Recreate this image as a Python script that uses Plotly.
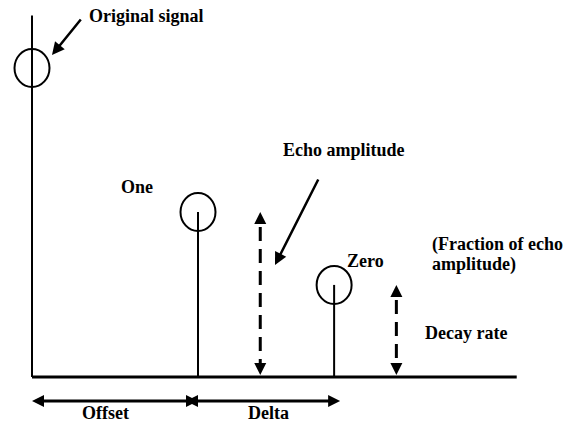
import plotly.graph_objects as go

# ---------------- data ----------------
signal_names = ["Original signal", "One", "Zero"]
signal_times = [0.0, 1.0, 1.82]       # offset = 1.0, delta = 0.82 (time units)
signal_amps = [1.0, 0.534, 0.298]     # relative amplitude of each pulse
axis_top = 1.17                        # top of the vertical axis
axis_end = 2.92                        # end of the time axis
arrow_gap = 0.375                      # dashed arrows sit this far after an echo

offset_label = "Offset"
delta_label = "Delta"
echo_label = "Echo amplitude"
decay_label = "Decay rate"
fraction_lines = ["(Fraction of echo", "amplitude)"]

# ---------------- geometry helpers ----------------
W, H = 570, 426
OX, OY = 32, 377        # pixel position of the origin
SX, SY = 166, 309       # pixels per data unit


def xd(px):
    return (px - OX) / SX


def yd(py):
    return (OY - py) / SY


BLACK = "black"

fig = go.Figure()

# axes lines
fig.add_trace(go.Scatter(x=[0, 0], y=[0, axis_top], mode="lines",
                         line=dict(color=BLACK, width=2)))
fig.add_trace(go.Scatter(x=[0, axis_end], y=[0, 0], mode="lines",
                         line=dict(color=BLACK, width=3)))

# stems
for t, a in zip(signal_times, signal_amps):
    fig.add_trace(go.Scatter(x=[t, t], y=[0, a], mode="lines",
                             line=dict(color=BLACK, width=2)))

# circles on top of stems
RX, RY = 17.5, 19
for t, a in zip(signal_times, signal_amps):
    fig.add_shape(type="circle", xref="x", yref="y",
                  x0=t - RX / SX, x1=t + RX / SX,
                  y0=a - RY / SY, y1=a + RY / SY,
                  line=dict(color=BLACK, width=2), fillcolor="rgba(0,0,0,0)")

# dashed double arrows (echo amplitude & decay rate)
HEAD = 12
for t, a in [(signal_times[1], signal_amps[1]), (signal_times[2], signal_amps[2])]:
    xa = t + arrow_gap
    fig.add_trace(go.Scatter(x=[xa, xa], y=[a - (HEAD + 3) / SY, 0 + (HEAD - 2) / SY],
                             mode="lines",
                             line=dict(color=BLACK, width=3, dash="14px,8px")))
    fig.add_trace(go.Scatter(x=[xa, xa], y=[a, 2 / SY], mode="markers",
                             marker=dict(symbol=["arrow-up", "arrow-down"], size=HEAD,
                                         color=BLACK, line=dict(width=0))))

# horizontal double arrows (offset and delta)
yh = yd(401)
spans = [(signal_times[0], signal_times[1]),
         (signal_times[1] - 12 / SX, signal_times[2] + 6 / SX)]
for x0, x1 in spans:
    fig.add_trace(go.Scatter(x=[x0 + 8 / SX, x1 - 8 / SX], y=[yh, yh], mode="lines",
                             line=dict(color=BLACK, width=3)))
    fig.add_trace(go.Scatter(x=[x0, x1], y=[yh, yh], mode="markers",
                             marker=dict(symbol=["arrow-left", "arrow-right"], size=HEAD,
                                         color=BLACK, line=dict(width=0))))

# pointer arrows
pointers = [((82, 18), (52, 55)), ((319, 178), (275, 265))]
for (tx, ty), (hx, hy) in pointers:
    fig.add_annotation(x=xd(hx), y=yd(hy), ax=xd(tx), ay=yd(ty),
                       xref="x", yref="y", axref="x", ayref="y",
                       text="", showarrow=True, arrowhead=2, arrowsize=1,
                       arrowwidth=2.5, arrowcolor=BLACK, standoff=0)

# text labels
labels = [
    (signal_names[0], 89, 16),
    (signal_names[1], 121, 187),
    (echo_label, 283, 150),
    (signal_names[2], 347, 261),
    (fraction_lines[0], 432, 244),
    (fraction_lines[1], 432, 264),
    (decay_label, 425, 333),
    (offset_label, 82, 413),
    (delta_label, 248, 413),
]
for txt, px, py in labels:
    fig.add_annotation(x=xd(px - 2.5), y=yd(py), xref="x", yref="y",
                       text="<b>" + txt + "</b>",
                       showarrow=False, xanchor="left", yanchor="middle",
                       font=dict(family="Liberation Serif", size=18, color=BLACK))

fig.update_layout(
    width=W, height=H,
    margin=dict(l=0, r=0, t=0, b=0),
    plot_bgcolor="white", paper_bgcolor="white",
    showlegend=False,
    xaxis=dict(range=[xd(0), xd(W)], visible=False, fixedrange=True),
    yaxis=dict(range=[yd(H), yd(0)], visible=False, fixedrange=True),
)

fig.write_html("out.html", config={"displayModeBar": False},
               post_script="document.body.style.margin='0';document.body.style.overflow='hidden';")
